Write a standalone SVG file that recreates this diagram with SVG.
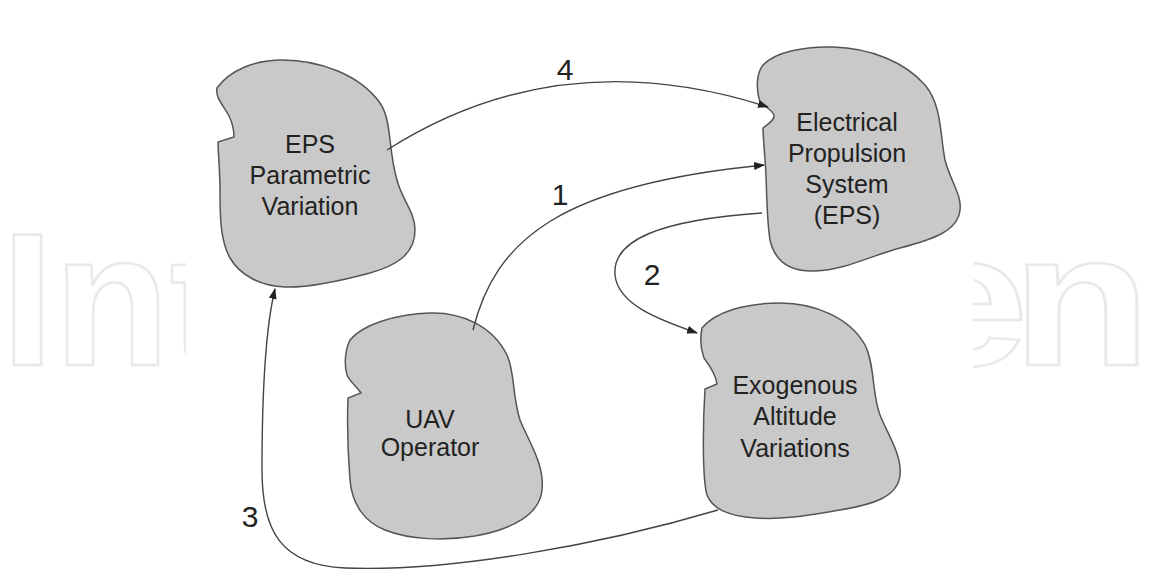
<svg xmlns="http://www.w3.org/2000/svg" width="1151" height="573" viewBox="0 0 1151 573">
<defs>
<style>
.blob{fill:#c9c9c9;stroke:#555;stroke-width:1.5}
.lbl{font-family:"Liberation Sans",Arial,sans-serif;font-size:25px;fill:#222;text-anchor:middle}
.num{font-family:"Liberation Sans",Arial,sans-serif;font-size:30px;fill:#222;text-anchor:middle}
.con{fill:none;stroke:#444;stroke-width:1.4}
.wm{font-family:"Liberation Sans",Arial,sans-serif;font-size:190px;font-weight:bold;fill:none;stroke:#e9e9e9;stroke-width:2.5}
</style>
<marker id="ah" markerUnits="userSpaceOnUse" markerWidth="11" markerHeight="8" refX="10" refY="4" orient="auto">
<path d="M0,0 L11,4 L0,8 Z" fill="#222"/>
</marker>
</defs>
<rect width="1151" height="573" fill="#fff"/>
<g id="watermark">
<text class="wm" x="1" y="365">Int</text>
<g transform="translate(885,0) scale(1.2,1)"><text class="wm" x="14 105.6" y="365">en</text></g>
<rect x="186" y="200" width="787" height="200" fill="#fff"/>
</g>
<g id="node-eps-param">
<path class="blob" d="M217,88 C230,70 255,60 282,60 C320,60 360,75 380,103 C392,120 388,150 397,180 C402,200 415,212 415,230 C415,255 395,266 370,273 C340,281 310,288 285,287 C260,286 240,275 230,258 C220,240 220,215 220,190 C220,170 218,152 218,142 L234,137 C234,130 232,122 229,116 C224,106 215,98 217,88 Z"/>
<text class="lbl" x="310" y="153">EPS</text>
<text class="lbl" x="310" y="184">Parametric</text>
<text class="lbl" x="310" y="215">Variation</text>
</g>
<g id="node-eps">
<path class="blob" d="M763,65 C775,52 805,46 833,47 C870,48 905,62 925,85 C942,105 940,135 945,160 C950,180 962,195 960,210 C958,232 930,240 900,248 C870,256 845,270 815,271 C790,272 775,262 770,240 C766,215 767,180 765,160 C764,145 763,135 763,128 C768,124 775,120 774,115 C772,110 764,106 760,102 C756,90 756,74 763,65 Z"/>
<text class="lbl" x="847" y="131">Electrical</text>
<text class="lbl" x="847" y="162">Propulsion</text>
<text class="lbl" x="847" y="193">System</text>
<text class="lbl" x="847" y="224">(EPS)</text>
</g>
<g id="node-uav">
<path class="blob" d="M350,340 C362,325 395,314 430,313 C460,312 492,325 507,355 C515,372 512,395 520,420 C528,440 545,465 542,490 C540,515 510,530 475,536 C445,541 410,540 385,530 C365,522 352,505 350,480 C348,455 347,425 348,398 L361,393 C357,387 350,382 347,375 C344,365 345,350 350,340 Z"/>
<text class="lbl" x="430" y="428">UAV</text>
<text class="lbl" x="430" y="456">Operator</text>
</g>
<g id="node-exo">
<path class="blob" d="M702,328 C715,312 745,303 780,303 C815,303 850,318 865,345 C875,365 872,395 880,415 C888,435 902,455 900,475 C898,498 870,505 840,510 C810,515 785,520 755,518 C730,516 713,510 707,495 C702,478 703,420 705,389 L717,384 C716,375 710,366 704,358 C701,350 700,338 702,328 Z"/>
<text class="lbl" x="795" y="394">Exogenous</text>
<text class="lbl" x="795" y="425">Altitude</text>
<text class="lbl" x="795" y="457">Variations</text>
</g>
<g id="connectors">
<path class="con" d="M387,150 Q560,40 768,107" marker-end="url(#ah)"/>
<path class="con" d="M473,330 C495,240 560,185 764,165" marker-end="url(#ah)"/>
<path class="con" d="M762,213 C660,220 612,240 615,275 C618,305 660,320 697,333" marker-end="url(#ah)"/>
<path class="con" d="M718,510 C600,545 450,572 345,568 C280,565 262,530 262,470 C262,400 265,330 275,289" marker-end="url(#ah)"/>
<text class="num" x="565" y="80">4</text>
<text class="num" x="560" y="205">1</text>
<text class="num" x="652" y="285">2</text>
<text class="num" x="250" y="527">3</text>
</g>
</svg>
